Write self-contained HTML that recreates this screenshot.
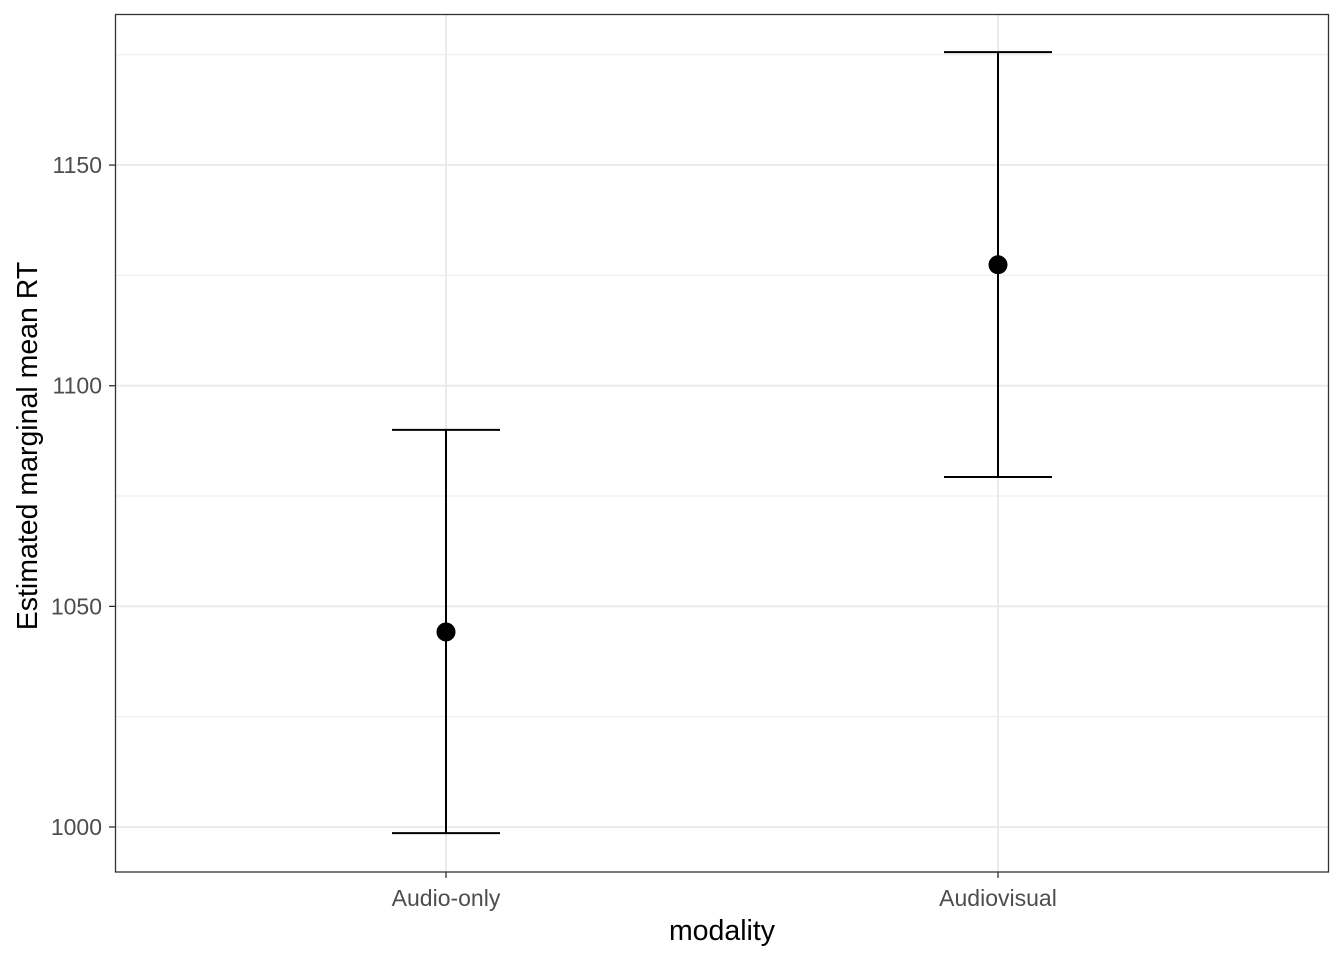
<!DOCTYPE html>
<html><head><meta charset="utf-8"><style>
html,body{margin:0;padding:0;background:#fff;}
svg{display:block;font-family:"Liberation Sans",Arial,sans-serif;}
</style></head><body>
<svg id="chart" width="1344" height="960" viewBox="0 0 1344 960" xmlns="http://www.w3.org/2000/svg">
<rect x="0" y="0" width="1344" height="960" fill="#fff"/>
<g id="grid"></g>
<g id="marks"></g>
<rect x="115.5" y="14.5" width="1213" height="857.5" fill="none" stroke="#333" stroke-width="1.3"/>
<g id="axes"></g>
<text x="722" y="940" text-anchor="middle" font-size="28.5" fill="#000">modality</text>
<text transform="translate(37,446) rotate(-90)" text-anchor="middle" font-size="28.5" fill="#000">Estimated marginal mean RT</text>
</svg>
<script>
const categories = ["Audio-only", "Audiovisual"];
const means = [1044.2, 1127.4];
const lowers = [998.6, 1079.3];
const uppers = [1090.0, 1175.6];
const yTicks = [1000, 1050, 1100, 1150];
const yMinor = [1025, 1075, 1125, 1175];

const NS = "http://www.w3.org/2000/svg";
const y = v => 827 - (v - 1000) * 4.413;
const x = i => 446 + i * 552;
function mk(parent, tag, attrs) {
  const e = document.createElementNS(NS, tag);
  for (const k in attrs) e.setAttribute(k, attrs[k]);
  parent.appendChild(e);
  return e;
}
const grid = document.getElementById('grid');
const marks = document.getElementById('marks');
const axes = document.getElementById('axes');
yMinor.forEach(v => {
  const l = mk(grid, 'line', {x1:115, x2:1329, y1:y(v), y2:y(v), stroke:'#ebebeb', 'stroke-width':1});
  
  
});
yTicks.forEach(v => {
  const l = mk(grid, 'line', {x1:115, x2:1329, y1:y(v), y2:y(v), stroke:'#ebebeb', 'stroke-width':2});
  
  
  const t = mk(axes, 'line', {x1:109, x2:115, y1:y(v), y2:y(v), stroke:'#333', 'stroke-width':1.3});
  
  
  const tx = mk(axes, 'text', {x:102, y:y(v)+8, 'text-anchor':'end', 'font-size':23, fill:'#4d4d4d'});
  tx.textContent = v;
  
  
});
categories.forEach((c, i) => {
  const g = mk(grid, 'line', {x1:x(i), x2:x(i), y1:14, y2:872, stroke:'#ebebeb', 'stroke-width':2});
  
  
  const t = mk(axes, 'line', {x1:x(i), x2:x(i), y1:872, y2:878, stroke:'#333', 'stroke-width':1.3});
  
  
  const tx = mk(axes, 'text', {x:x(i), y:906, 'text-anchor':'middle', 'font-size':23, fill:'#4d4d4d'});
  tx.textContent = c;
  
  
  const v = mk(marks, 'line', {x1:x(i), x2:x(i), y1:y(lowers[i]), y2:y(uppers[i]), stroke:'#000', 'stroke-width':2});
  
  
  [lowers[i], uppers[i]].forEach(b => {
    const cap = mk(marks, 'line', {x1:x(i)-54, x2:x(i)+54, y1:y(b), y2:y(b), stroke:'#000', 'stroke-width':2});
    
    
  });
  const p = mk(marks, 'circle', {cx:x(i), cy:y(means[i]), r:9.5, fill:'#000'});
  
  
});
</script>
</body></html>
